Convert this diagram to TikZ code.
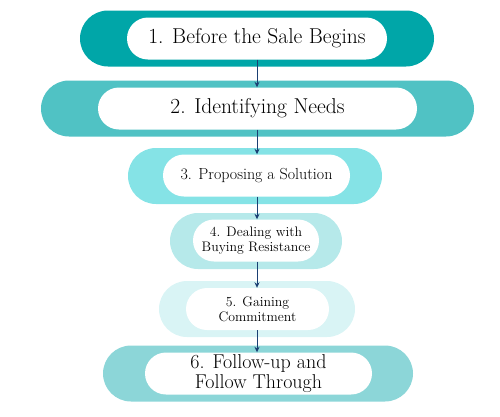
\documentclass[tikz,border=0pt]{standalone}
\usepackage{xcolor}
\definecolor{stepA}{RGB}{0, 166, 168}
\definecolor{stepB}{RGB}{80, 194, 196}
\definecolor{stepC}{RGB}{133, 227, 230}
\definecolor{stepD}{RGB}{182, 233, 234}
\definecolor{stepE}{RGB}{217, 244, 245}
\definecolor{stepF}{RGB}{140, 214, 216}
\definecolor{navy}{RGB}{26, 63, 115}
\usepackage{tikz}
\usetikzlibrary{arrows.meta, positioning}

\begin{document}
\begin{tikzpicture}[
  x=1pt, y=-1pt,
  % band styles
  band/.style  = {rectangle, rounded corners=28pt, minimum height=56pt,
                  inner sep=0pt},
  label/.style = {rectangle, rounded corners=21pt, fill=white,
                  minimum height=42pt, inner sep=0pt, align=center},
  big/.style   = {font=\fontsize{21.5}{24}\selectfont},
  mid/.style   = {font=\fontsize{16}{18}\selectfont},
  small/.style = {font=\fontsize{13.8}{15}\selectfont},
  % arrow style
  arr/.style   = {-{Stealth[length=5.5pt, width=5pt]}, line width=0.9pt, color=navy},
]
\useasboundingbox (0,0) rectangle (500,416);

%% Outer bands
\node[band, fill=stepA, minimum width=354pt] (band1) at (257,38.5)  {};
\node[band, fill=stepB, minimum width=433pt] (band2) at (257.5,108.5) {};
\node[band, fill=stepC, minimum width=254pt] (band3) at (255,176)   {};
\node[band, fill=stepD, minimum width=172pt] (band4) at (256,241)   {};
\node[band, fill=stepE, minimum width=196pt] (band5) at (257,309)   {};
\node[band, fill=stepF, minimum width=310pt] (band6) at (258,373.5) {};

%% Inner labels
\node[label, big,   minimum width=260pt] (step1) at (257,38.5)  {1. Before the Sale Begins};
\node[label, big,   minimum width=319pt] (step2) at (257.5,108.5) {2. Identifying Needs};
\node[label, mid,   minimum width=187pt] (step3) at (256.5,175.5) {3. Proposing a Solution};
\node[label, small, minimum width=126pt] (step4) at (256,240.5) {4. Dealing with\\Buying Resistance};
\node[label, small, minimum width=143pt] (step5) at (257.5,309)   {5. Gaining\\Commitment};
\node[label, minimum width=227pt, font=\fontsize{20}{20}\selectfont] (step6) at (258.5,373.5) {6. Follow-up and\\Follow Through};

%% Flow arrows
\draw[arr] (step1.south -| band1.center) -- (step2.north -| band1.center);
\draw[arr] (step2.south -| band1.center) -- (step3.north -| band1.center);
\draw[arr] (step3.south -| band1.center) -- (step4.north -| band1.center);
\draw[arr] (step4.south -| band1.center) -- (step5.north -| band1.center);
\draw[arr] (step5.south -| band1.center) -- (step6.north -| band1.center);

\end{tikzpicture}
\end{document}
